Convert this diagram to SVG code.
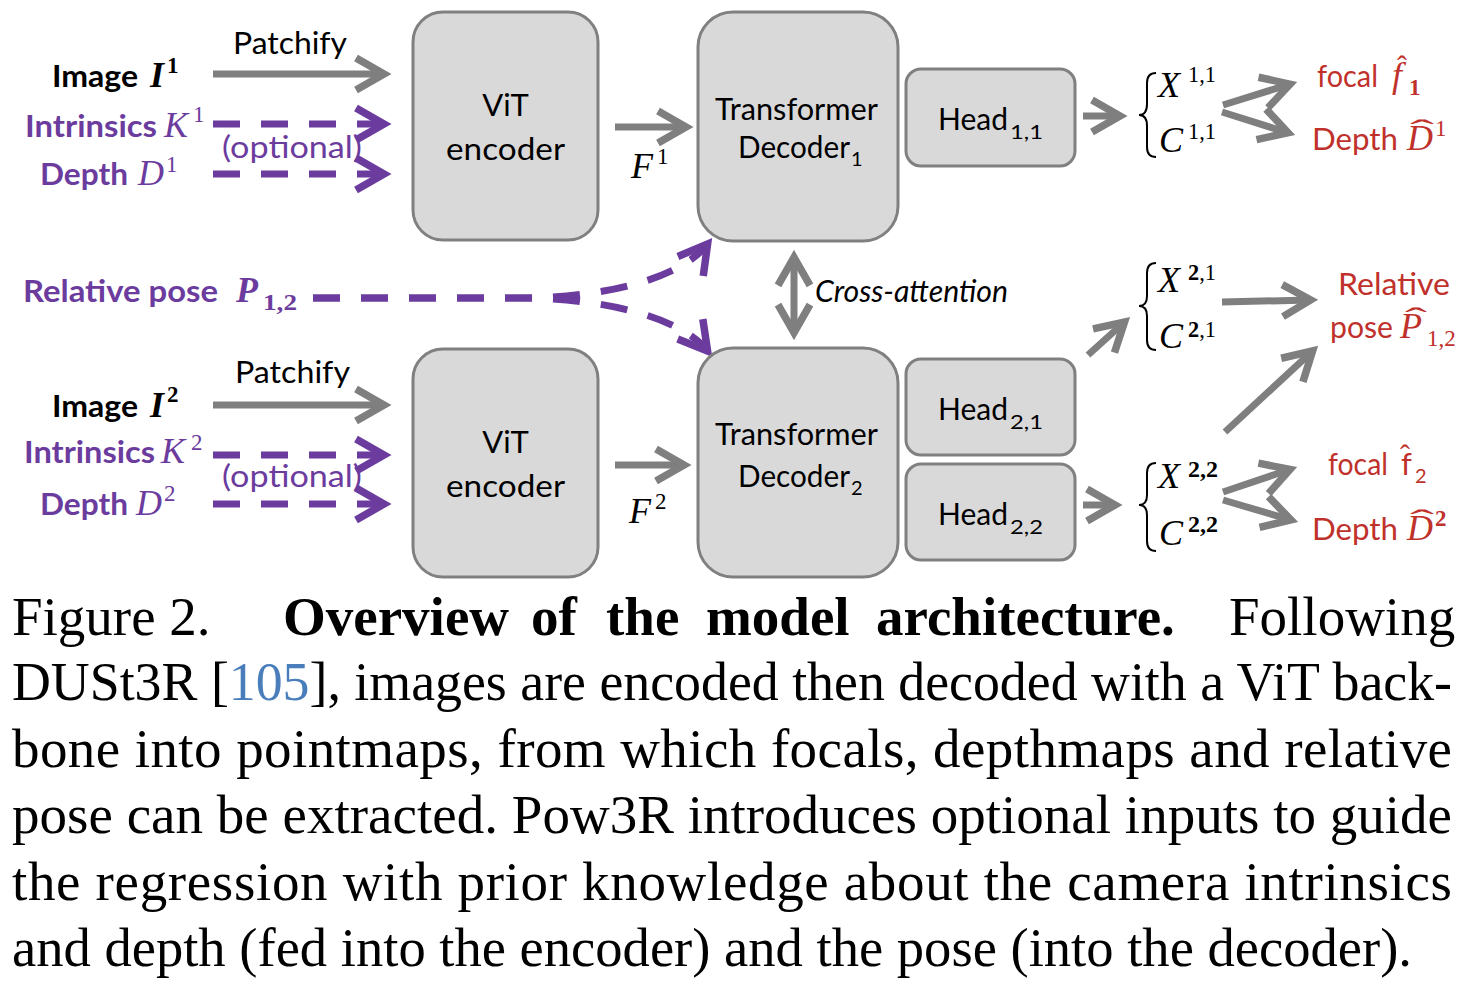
<svg xmlns="http://www.w3.org/2000/svg" width="1464" height="987" viewBox="0 0 1464 987">
<style>
.box{fill:#d9d9d9;stroke:#808080;stroke-width:3}
.lbl{font-family:Lato,"Open Sans","Liberation Sans",sans-serif;font-size:31px;fill:#000}
.b{font-weight:bold}
.pu{fill:#6b3c9e}
.rd{fill:#c0312b}
.m{font-family:"Liberation Serif","DejaVu Serif",serif;font-style:italic;font-size:36px}
.ms{font-family:"Liberation Serif","DejaVu Serif",serif;font-size:23px}
.sub{font-family:Lato,"Open Sans","Liberation Sans",sans-serif;font-size:20px}
.hat{font-family:"Liberation Serif","DejaVu Serif",serif;font-size:30px}
.ga{fill:none;stroke:#7f7f7f;stroke-width:7;marker-end:url(#ag)}
.pa{fill:none;stroke:#6b3c9e;stroke-width:7;stroke-dasharray:27 21;marker-end:url(#ap)}
.br{fill:none;stroke:#000;stroke-width:2}
.cap{font-family:"Liberation Serif","Times New Roman",serif;font-size:55px;fill:#000}
</style>
<defs>
<marker id="ag" markerUnits="userSpaceOnUse" viewBox="-40 -24 52 48" markerWidth="52" markerHeight="48" refX="0" refY="0" orient="auto-start-reverse">
<path d="M-28,-16 L0,0 L-28,16" fill="none" stroke="#7f7f7f" stroke-width="7.5" stroke-linejoin="miter" stroke-miterlimit="10"/>
</marker>
<marker id="ap" markerUnits="userSpaceOnUse" viewBox="-40 -24 52 48" markerWidth="52" markerHeight="48" refX="0" refY="0" orient="auto">
<path d="M-28,-16 L0,0 L-28,16" fill="none" stroke="#6b3c9e" stroke-width="7.5" stroke-linejoin="miter" stroke-miterlimit="10"/>
</marker>
</defs>

<g id="connectors">
<path class="ga" d="M213 74 H384"/>
<path class="ga" d="M213 405 H384"/>
<path class="ga" d="M615 127 H686"/>
<path class="ga" d="M615 465 H684"/>
<path class="ga" d="M1083 116 H1120"/>
<path class="ga" d="M1083 505 H1115"/>
<path class="ga" d="M1088 355 L1124.5 322"/>
<path class="ga" d="M1223 105 L1290 84.2"/>
<path class="ga" d="M1222 112 L1288 132.8"/>
<path class="ga" d="M1222 302 L1310.6 300"/>
<path class="ga" d="M1225 432 L1312.6 351"/>
<path class="ga" d="M1223 492 L1290 469.4"/>
<path class="ga" d="M1223 500 L1290.9 519.9"/>
<path class="ga" d="M794 257.4 V332.6" style="marker-start:url(#ag)"/>
<path class="pa" d="M213 124 H384"/>
<path class="pa" d="M213 174 H384"/>
<path class="pa" d="M213 455 H384"/>
<path class="pa" d="M213 504 H384"/>
<path class="pa" d="M313 298 L520 298 C600 298 680 280 707.6 244"/>
<path class="pa" d="M313 298 L520 298 C600 298 680 316 707.6 351"/>
</g>

<g id="input1">
<text class="lbl" x="233" y="54" textLength="114" lengthAdjust="spacingAndGlyphs">Patchify</text>
<text class="lbl b" x="52" y="87" textLength="86" lengthAdjust="spacingAndGlyphs" font-size="32">Image</text>
<text class="m b" x="150" y="87">I</text>
<text class="ms b" x="167" y="73">1</text>
<text class="lbl b pu" x="25" y="137" textLength="132" lengthAdjust="spacingAndGlyphs">Intrinsics</text>
<text class="m pu" x="164" y="137">K</text>
<text class="ms pu" x="193" y="122">1</text>
<text class="lbl pu" x="222" y="158" textLength="140" lengthAdjust="spacingAndGlyphs">(optional)</text>
<text class="lbl b pu" x="40" y="185" textLength="88" lengthAdjust="spacingAndGlyphs">Depth</text>
<text class="m pu" x="138" y="185">D</text>
<text class="ms pu" x="166" y="172">1</text>
</g>

<g id="input2">
<text class="lbl" x="235" y="383" textLength="115" lengthAdjust="spacingAndGlyphs">Patchify</text>
<text class="lbl b" x="52" y="417" textLength="86" lengthAdjust="spacingAndGlyphs" font-size="32">Image</text>
<text class="m b" x="150" y="417">I</text>
<text class="ms b" x="167" y="402">2</text>
<text class="lbl b pu" x="24" y="463" textLength="131" lengthAdjust="spacingAndGlyphs">Intrinsics</text>
<text class="m pu" x="161" y="463">K</text>
<text class="ms pu" x="191" y="450">2</text>
<text class="lbl pu" x="222" y="487" textLength="140" lengthAdjust="spacingAndGlyphs">(optional)</text>
<text class="lbl b pu" x="40" y="515" textLength="88" lengthAdjust="spacingAndGlyphs">Depth</text>
<text class="m pu" x="136" y="515">D</text>
<text class="ms pu" x="164" y="501">2</text>
</g>

<g id="relpose-in">
<text class="lbl b pu" x="23" y="302" textLength="195" lengthAdjust="spacingAndGlyphs">Relative pose</text>
<text class="m b pu" x="236" y="302">P</text>
<text class="ms b pu" x="263" y="310" textLength="34" lengthAdjust="spacingAndGlyphs">1,2</text>
</g>

<g id="encoder1">
<rect class="box" x="413" y="12" width="185" height="228" rx="30"/>
<text class="lbl" x="505.5" y="116" text-anchor="middle">ViT</text>
<text class="lbl" x="505.5" y="160" text-anchor="middle" textLength="119" lengthAdjust="spacingAndGlyphs">encoder</text>
</g>
<g id="encoder2">
<rect class="box" x="413" y="349" width="185" height="228" rx="30"/>
<text class="lbl" x="505.5" y="453" text-anchor="middle">ViT</text>
<text class="lbl" x="505.5" y="497" text-anchor="middle" textLength="119" lengthAdjust="spacingAndGlyphs">encoder</text>
</g>

<g id="feat">
<text class="m" x="631" y="178">F</text>
<text class="ms" x="657" y="164">1</text>
<text class="m" x="629" y="523">F</text>
<text class="ms" x="655" y="509">2</text>
</g>

<g id="decoder1">
<rect class="box" x="698" y="12" width="200" height="229" rx="35"/>
<text class="lbl" x="715" y="120" textLength="163" lengthAdjust="spacingAndGlyphs">Transformer</text>
<text class="lbl" x="738" y="158" textLength="112" lengthAdjust="spacingAndGlyphs">Decoder</text>
<text class="sub" x="851" y="166">1</text>
</g>
<g id="decoder2">
<rect class="box" x="698" y="348" width="200" height="229" rx="35"/>
<text class="lbl" x="715" y="445" textLength="163" lengthAdjust="spacingAndGlyphs">Transformer</text>
<text class="lbl" x="738" y="487" textLength="112" lengthAdjust="spacingAndGlyphs">Decoder</text>
<text class="sub" x="851" y="495">2</text>
</g>

<g id="head11">
<rect class="box" x="906" y="69" width="169" height="97" rx="15"/>
<text class="lbl" x="938" y="130" textLength="70" lengthAdjust="spacingAndGlyphs">Head</text>
<text class="sub" x="1010" y="139" textLength="33" lengthAdjust="spacingAndGlyphs">1,1</text>
</g>
<g id="head21">
<rect class="box" x="906" y="359" width="169" height="96" rx="15"/>
<text class="lbl" x="938" y="420" textLength="70" lengthAdjust="spacingAndGlyphs">Head</text>
<text class="sub" x="1010" y="429" textLength="33" lengthAdjust="spacingAndGlyphs">2,1</text>
</g>
<g id="head22">
<rect class="box" x="906" y="464" width="169" height="96" rx="15"/>
<text class="lbl" x="938" y="525" textLength="70" lengthAdjust="spacingAndGlyphs">Head</text>
<text class="sub" x="1010" y="534" textLength="33" lengthAdjust="spacingAndGlyphs">2,2</text>
</g>

<g id="crossattn">
<text class="lbl" x="815" y="302" font-size="27" font-style="italic" textLength="193" lengthAdjust="spacingAndGlyphs">Cross-attention</text>
</g>

<g id="out11">
<path class="br" d="M1156 73 Q1147 73 1147 83 L1147 104 Q1147 115 1139 115 Q1147 115 1147 126 L1147 147 Q1147 157 1156 157"/>
<text class="m" x="1158" y="97">X</text>
<text class="ms" x="1188" y="82" textLength="28" lengthAdjust="spacingAndGlyphs">1,1</text>
<text class="m" x="1159" y="152">C</text>
<text class="ms" x="1188" y="139" textLength="28" lengthAdjust="spacingAndGlyphs">1,1</text>
</g>
<g id="out21">
<path class="br" d="M1156 263 Q1147 263 1147 273 L1147 296 Q1147 306 1139 306 Q1147 306 1147 316 L1147 340 Q1147 350 1156 350"/>
<text class="m" x="1158" y="292">X</text>
<text class="ms" x="1188" y="280" textLength="28" lengthAdjust="spacingAndGlyphs"><tspan font-weight="bold">2</tspan>,1</text>
<text class="m" x="1159" y="348">C</text>
<text class="ms" x="1188" y="337" textLength="28" lengthAdjust="spacingAndGlyphs"><tspan font-weight="bold">2</tspan>,1</text>
</g>
<g id="out22">
<path class="br" d="M1156 463 Q1147 463 1147 473 L1147 495 Q1147 505 1139 505 Q1147 505 1147 515 L1147 541 Q1147 551 1156 551"/>
<text class="m" x="1158" y="488">X</text>
<text class="ms b" x="1188" y="477" textLength="30" lengthAdjust="spacingAndGlyphs">2,2</text>
<text class="m" x="1159" y="545">C</text>
<text class="ms b" x="1188" y="532" textLength="30" lengthAdjust="spacingAndGlyphs">2,2</text>
</g>

<g id="focal1">
<text class="lbl rd" x="1317" y="87" textLength="61" lengthAdjust="spacingAndGlyphs">focal</text>
<text class="m rd" x="1392" y="87">f</text>
<text class="hat rd" x="1397" y="76">ˆ</text>
<text class="ms b rd" x="1409" y="95">1</text>
</g>
<g id="depth1">
<text class="lbl rd" x="1312" y="150" textLength="86" lengthAdjust="spacingAndGlyphs">Depth</text>
<text class="m rd" x="1407" y="150">D</text>
<text class="hat rd" transform="translate(1422,140) scale(2.4,1)" text-anchor="middle" font-size="32">ˆ</text>
<text class="ms rd" x="1435" y="136">1</text>
</g>
<g id="relpose-out">
<text class="lbl rd" x="1338" y="295" textLength="112" lengthAdjust="spacingAndGlyphs">Relative</text>
<text class="lbl rd" x="1330" y="338" textLength="63" lengthAdjust="spacingAndGlyphs">pose</text>
<text class="m rd" x="1400" y="338">P</text>
<text class="hat rd" transform="translate(1416,328) scale(2.2,1)" text-anchor="middle" font-size="32">ˆ</text>
<text class="ms rd" x="1427" y="346">1,2</text>
</g>
<g id="focal2">
<text class="lbl rd" x="1328" y="475" textLength="60" lengthAdjust="spacingAndGlyphs">focal</text>
<text class="lbl rd" x="1401" y="475">f</text>
<text class="hat rd" x="1400" y="465">ˆ</text>
<text class="sub rd" x="1415" y="483">2</text>
</g>
<g id="depth2">
<text class="lbl rd" x="1312" y="540" textLength="86" lengthAdjust="spacingAndGlyphs">Depth</text>
<text class="m rd" x="1407" y="540">D</text>
<text class="hat rd" transform="translate(1422,530) scale(2.4,1)" text-anchor="middle" font-size="32">ˆ</text>
<text class="ms b rd" x="1435" y="526">2</text>
</g>

<g id="caption">
<text class="cap" y="635"><tspan x="12">Figure 2.</tspan><tspan x="283" font-weight="bold">Overview</tspan><tspan x="531" font-weight="bold">of</tspan><tspan x="606" font-weight="bold">the</tspan><tspan x="706" font-weight="bold">model</tspan><tspan x="876" font-weight="bold">architecture.</tspan><tspan x="1229">Following</tspan></text>
<text class="cap" x="12" y="700" textLength="1440" lengthAdjust="spacingAndGlyphs">DUSt3R [<tspan fill="#4a7ebb">105</tspan>], images are encoded then decoded with a ViT back-</text>
<text class="cap" x="12" y="767" textLength="1440" lengthAdjust="spacing">bone into pointmaps, from which focals, depthmaps and relative</text>
<text class="cap" x="12" y="833" textLength="1440" lengthAdjust="spacing">pose can be extracted. Pow3R introduces optional inputs to guide</text>
<text class="cap" x="12" y="900" textLength="1440" lengthAdjust="spacing">the regression with prior knowledge about the camera intrinsics</text>
<text class="cap" x="12" y="966" textLength="1400" lengthAdjust="spacingAndGlyphs">and depth (fed into the encoder) and the pose (into the decoder).</text>
</g>
</svg>
